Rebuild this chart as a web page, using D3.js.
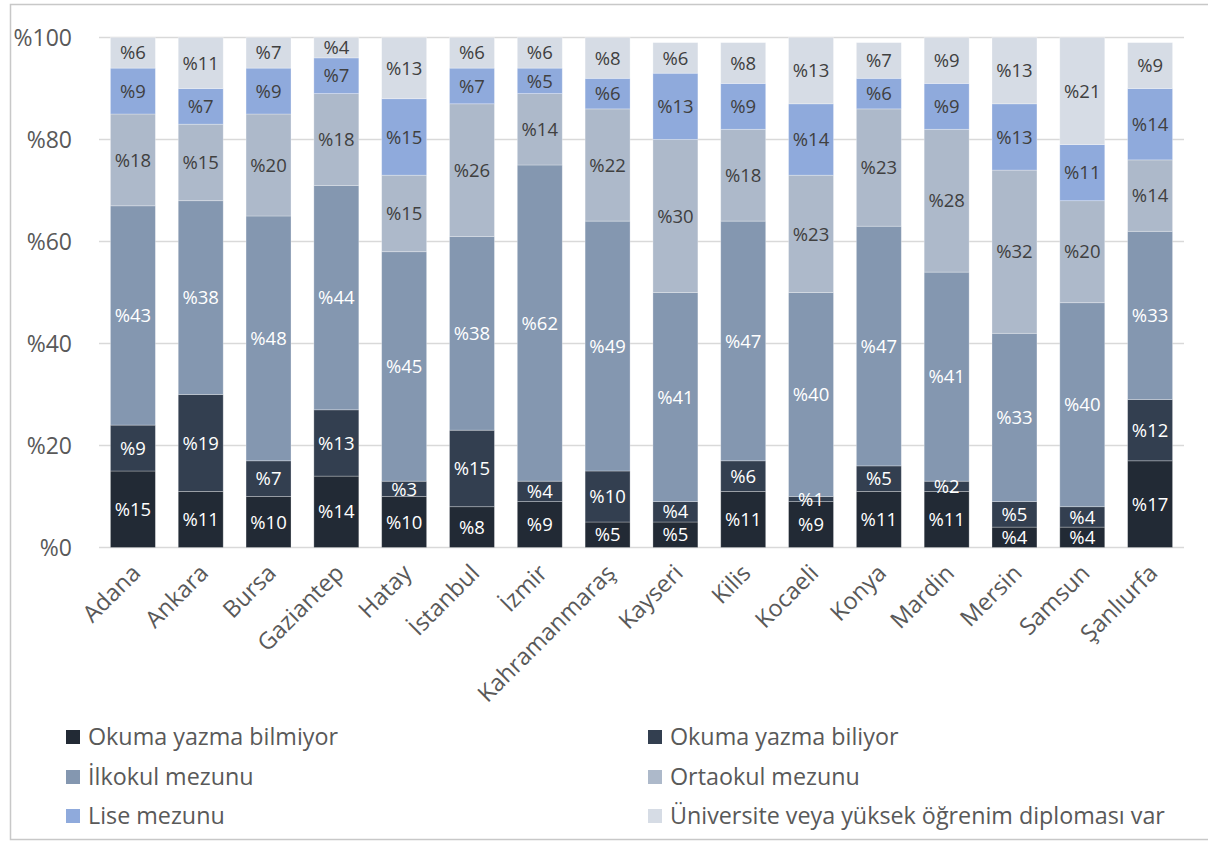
<!DOCTYPE html>
<html>
<head>
<meta charset="utf-8">
<script src="https://cdn.jsdelivr.net/npm/d3@7"></script>
<style>
  html, body { margin: 0; padding: 0; background: #fff; }
  svg { display: block; font-family: "Open Sans", sans-serif; }
</style>
</head>
<body>
<svg id="chart" width="1208" height="841"></svg>
<script>
const categories = ["Adana","Ankara","Bursa","Gaziantep","Hatay","İstanbul","İzmir","Kahramanmaraş","Kayseri","Kilis","Kocaeli","Konya","Mardin","Mersin","Samsun","Şanlıurfa"];
const seriesNames = ["Okuma yazma bilmiyor","Okuma yazma biliyor","İlkokul mezunu","Ortaokul mezunu","Lise mezunu","Üniversite veya yüksek öğrenim diploması var"];
const okumaBilmiyor = [15,11,10,14,10,8,9,5,5,11,9,11,11,4,4,17];
const okumaBiliyor  = [9,19,7,13,3,15,4,10,4,6,1,5,2,5,4,12];
const ilkokul       = [43,38,48,44,45,38,62,49,41,47,40,47,41,33,40,33];
const ortaokul      = [18,15,20,18,15,26,14,22,30,18,23,23,28,32,20,14];
const lise          = [9,7,9,7,15,7,5,6,13,9,14,6,9,13,11,14];
const universite    = [6,11,7,4,13,6,6,8,6,8,13,7,9,13,21,9];
const yTicks = [0,20,40,60,80,100];

const seriesValues = [okumaBilmiyor, okumaBiliyor, ilkokul, ortaokul, lise, universite];
const colors = ["#222a35","#333f50","#8497b0","#adb9ca","#8faadc","#d6dce5"];
const labelColors = ["#ffffff","#ffffff","#ffffff","#404040","#404040","#404040"];

const rows = categories.map((c, i) => {
  const r = { cat: c };
  seriesNames.forEach((s, k) => r[s] = seriesValues[k][i]);
  return r;
});
const stacked = d3.stack().keys(seriesNames)(rows);

const svg = d3.select("#chart");

// chart frame
svg.append("rect").attr("x", 10.5).attr("y", 4.5).attr("width", 1220).attr("height", 835)
  .attr("fill", "none").attr("stroke", "#c8c8c8").attr("stroke-width", 1.5);

const x = d3.scaleBand().domain(categories).range([99, 1184]).paddingInner(0.337).paddingOuter(0.1685);
const y = d3.scaleLinear().domain([0, 100]).range([547.5, 37.5]).clamp(true);

// gridlines
svg.append("g").selectAll("line").data(yTicks).join("line")
  .attr("x1", 99).attr("x2", 1184)
  .attr("y1", d => y(d)).attr("y2", d => y(d))
  .attr("stroke", "#d9d9d9").attr("stroke-width", 1.5);

// y axis labels
const yAxis = d3.axisLeft(y).tickValues(yTicks).tickSize(0).tickPadding(0).tickFormat(d => "%" + d);
const yg = svg.append("g").attr("transform", "translate(72,0)").call(yAxis);
yg.select(".domain").remove();
yg.selectAll("text").attr("font-size", 23).attr("fill", "#595959").attr("font-family", "'Open Sans', sans-serif").attr("dy", "0.35em");

// bars
const layers = svg.append("g").selectAll("g").data(stacked).join("g")
  .attr("fill", (d, i) => colors[i]);
layers.selectAll("rect").data(d => d).join("rect")
  .attr("x", d => x(d.data.cat))
  .attr("width", x.bandwidth())
  .attr("y", d => y(d[1]))
  .attr("height", d => y(d[0]) - y(d[1]))
  .attr("stroke", "#ffffff").attr("stroke-opacity", 0.35).attr("stroke-width", 0.8);

// value labels
stacked.forEach((layer, k) => {
  svg.append("g").selectAll("text").data(layer).join("text")
    .attr("x", d => x(d.data.cat) + x.bandwidth() / 2)
    .attr("y", d => (y(d[0]) + y(d[1])) / 2)
    .attr("dy", "0.36em")
    .attr("text-anchor", "middle")
    .attr("font-size", 18.5)
    .attr("fill", labelColors[k])
    .text(d => "%" + d.data[layer.key]);
});

// x axis category labels
const xg = svg.append("g").attr("transform", "translate(0,547.5)")
  .call(d3.axisBottom(x).tickSize(0).tickPadding(0));
xg.select(".domain").remove();
xg.selectAll("text")
  .attr("font-size", 23.5).attr("fill", "#595959").attr("font-family", "'Open Sans', sans-serif")
  .attr("text-anchor", "end")
  .attr("dy", "0")
  .attr("y", 0)
  .attr("transform", "translate(9,27) rotate(-45)");

// legend
const legendPos = [
  [66, 737], [648, 737],
  [66, 777], [648, 777],
  [66, 816], [648, 816]
];
const lg = svg.append("g").selectAll("g").data(seriesNames).join("g")
  .attr("transform", (d, i) => `translate(${legendPos[i][0]},${legendPos[i][1]})`);
lg.append("rect").attr("x", 0).attr("y", -7).attr("width", 14).attr("height", 14)
  .attr("fill", (d, i) => colors[i]);
lg.append("text").attr("x", 22).attr("y", 0).attr("dy", "0.35em")
  .attr("font-size", 23.3).attr("fill", "#595959").text(d => d);
</script>
</body>
</html>
